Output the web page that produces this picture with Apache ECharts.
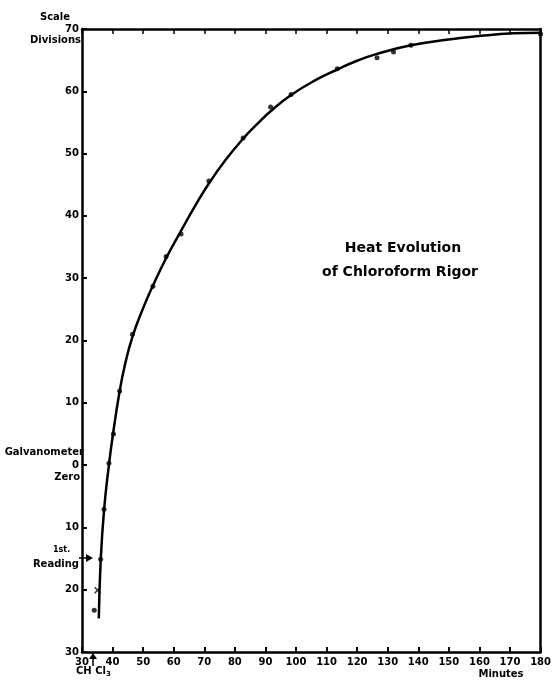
<!DOCTYPE html>
<html>
<head>
<meta charset="utf-8">
<script src="https://cdn.jsdelivr.net/npm/echarts@6/dist/echarts.min.js"></script>
<style>
html,body{margin:0;padding:0;background:#fff;}
#chart{width:554px;height:680px;}
</style>
</head>
<body>
<div id="chart"></div>
<script>
// Observed readings (dots)
var dotMinutes = [34, 36.1, 37.2, 38.8, 40.3, 42.3, 46.5, 53.2, 57.5, 62.4, 71.5, 82.7, 91.7, 98.4, 113.5, 126.5, 131.9, 137.6, 180];
var dotValues  = [-23.3, -15.1, -7.1, 0.3, 5.0, 11.9, 21.0, 28.7, 33.5, 37.1, 45.6, 52.5, 57.5, 59.5, 63.6, 65.4, 66.3, 67.4, 69.2];
// Cross-marked reading
var crossMinutes = [35.1];
var crossValues  = [-20.1];
// Drawn curve
var curveMinutes = [35.5, 36.1, 37.2, 38.8, 40.2, 42.3, 44.0, 46.5, 50.0, 53.2, 57.5, 62.4, 67.0, 71.5, 77.0, 82.7, 87.0, 91.7, 98.4, 106.8, 113.5, 120.0, 126.5, 137.6, 149.8, 160.5, 171.3, 180];
var curveValues  = [-24.6, -15.5, -7.3, 0.0, 5.2, 11.8, 16.0, 20.6, 25.2, 28.8, 33.2, 37.6, 41.6, 45.2, 49.0, 52.4, 54.6, 56.8, 59.4, 61.9, 63.5, 64.9, 66.0, 67.4, 68.3, 68.9, 69.3, 69.4];
// Tick labels
var xTickValues = [30,40,50,60,70,80,90,100,110,120,130,140,150,160,170,180];
var xTickLabels = ['30','40','50','60','70','80','90','100','110','120','130','140','150','160','170','180'];
var yTickValues = [-30,-20,-10,0,10,20,30,40,50,60,70];
var yTickLabels = ['30','20','10','0','10','20','30','40','50','60','70'];

function pairs(a,b){ return a.map(function(v,i){ return [v,b[i]]; }); }
function lab(vals, labels){ return function(v){ var i = vals.indexOf(Math.round(v)); return i<0 ? '' : labels[i]; }; }

var FONT = 'DejaVu Sans';
var axisLineStyle = {color:'#000', width:2.5};
var chart = echarts.init(document.getElementById('chart'));
chart.setOption({
  backgroundColor:'#fff',
  animation:false,
  grid:{left:82, right:8, top:29, bottom:28},
  xAxis:[
    {type:'value', min:30, max:180, interval:10, position:'bottom',
     axisLine:{show:true, onZero:false, lineStyle:axisLineStyle},
     axisTick:{show:true, inside:true, length:5, lineStyle:{color:'#000', width:2}},
     axisLabel:{formatter:lab(xTickValues,xTickLabels), color:'#000', fontFamily:FONT, fontWeight:'bold', fontSize:10, margin:5},
     splitLine:{show:false}},
    {type:'value', min:30, max:180, interval:10, position:'top',
     axisLine:{show:true, onZero:false, lineStyle:axisLineStyle},
     axisTick:{show:true, inside:true, length:5, lineStyle:{color:'#000', width:1.5}},
     axisLabel:{show:false}, splitLine:{show:false}}
  ],
  yAxis:[
    {type:'value', min:-30, max:70, interval:10, position:'left',
     axisLine:{show:true, onZero:false, lineStyle:axisLineStyle},
     axisTick:{show:true, inside:true, length:5, lineStyle:{color:'#000', width:2}},
     axisLabel:{formatter:lab(yTickValues,yTickLabels), color:'#000', fontFamily:FONT, fontWeight:'bold', fontSize:10, margin:3},
     splitLine:{show:false}},
    {type:'value', min:-30, max:70, interval:10, position:'right',
     axisLine:{show:true, onZero:false, lineStyle:axisLineStyle},
     axisTick:{show:false}, axisLabel:{show:false}, splitLine:{show:false}}
  ],
  series:[
    {type:'line', data:pairs(curveMinutes,curveValues), smooth:0.5, showSymbol:false, symbol:'none',
     lineStyle:{color:'#000', width:2.5}, z:3},
    {type:'scatter', data:pairs(dotMinutes,dotValues), symbol:'circle', symbolSize:5,
     itemStyle:{color:'#000'}, z:4},
    {type:'scatter', data:pairs(crossMinutes,crossValues), symbol:'path://M0,0L10,10M10,0L0,10', symbolSize:6,
     itemStyle:{color:'none', borderColor:'#000', borderWidth:1.5}, z:4}
  ],
  graphic:[
    {type:'text', style:{text:'Scale', x:55, y:17, font:'bold 10px "DejaVu Sans"', fill:'#000', textAlign:'center', textVerticalAlign:'middle'}},
    {type:'text', style:{text:'Divisions', x:81, y:40, font:'bold 10px "DejaVu Sans"', fill:'#000', textAlign:'right', textVerticalAlign:'middle'}},
    {type:'text', style:{text:'Galvanometer', x:84, y:452, font:'bold 10px "DejaVu Sans"', fill:'#000', textAlign:'right', textVerticalAlign:'middle'}},
    {type:'text', style:{text:'Zero', x:80, y:477, font:'bold 10px "DejaVu Sans"', fill:'#000', textAlign:'right', textVerticalAlign:'middle'}},
    {type:'text', style:{text:'1st.', x:53, y:550, font:'bold 8px "DejaVu Sans"', fill:'#000', textAlign:'left', textVerticalAlign:'middle'}},
    {type:'text', style:{text:'Reading', x:79, y:564, font:'bold 10px "DejaVu Sans"', fill:'#000', textAlign:'right', textVerticalAlign:'middle'}},
    {type:'polyline', shape:{points:[[79,558],[90,558]]}, style:{stroke:'#000', lineWidth:1.5}},
    {type:'polygon', shape:{points:[[93,558],[86,554],[86,562]]}, style:{fill:'#000'}},
    {type:'polyline', shape:{points:[[93,666],[93,656]]}, style:{stroke:'#000', lineWidth:1.5}},
    {type:'polygon', shape:{points:[[93,653],[89,659],[97,659]]}, style:{fill:'#000'}},
    {type:'text', style:{rich:{a:{font:'bold 10px "DejaVu Sans"', fill:'#000'}, s:{font:'bold 7px "DejaVu Sans"', fill:'#000', padding:[6,0,0,0]}}, text:'{a|CH Cl}{s|3}', x:76, y:665, fill:'#000', textAlign:'left', textVerticalAlign:'top'}},
    {type:'text', style:{text:'Minutes', x:501, y:674, font:'bold 10px "DejaVu Sans"', fill:'#000', textAlign:'center', textVerticalAlign:'middle'}},
    {type:'text', style:{text:'Heat Evolution', x:403, y:248, font:'bold 14px "DejaVu Sans"', fill:'#000', textAlign:'center', textVerticalAlign:'middle'}},
    {type:'text', style:{text:'of Chloroform Rigor', x:400, y:272, font:'bold 14px "DejaVu Sans"', fill:'#000', textAlign:'center', textVerticalAlign:'middle'}}
  ]
});
</script>
</body>
</html>
